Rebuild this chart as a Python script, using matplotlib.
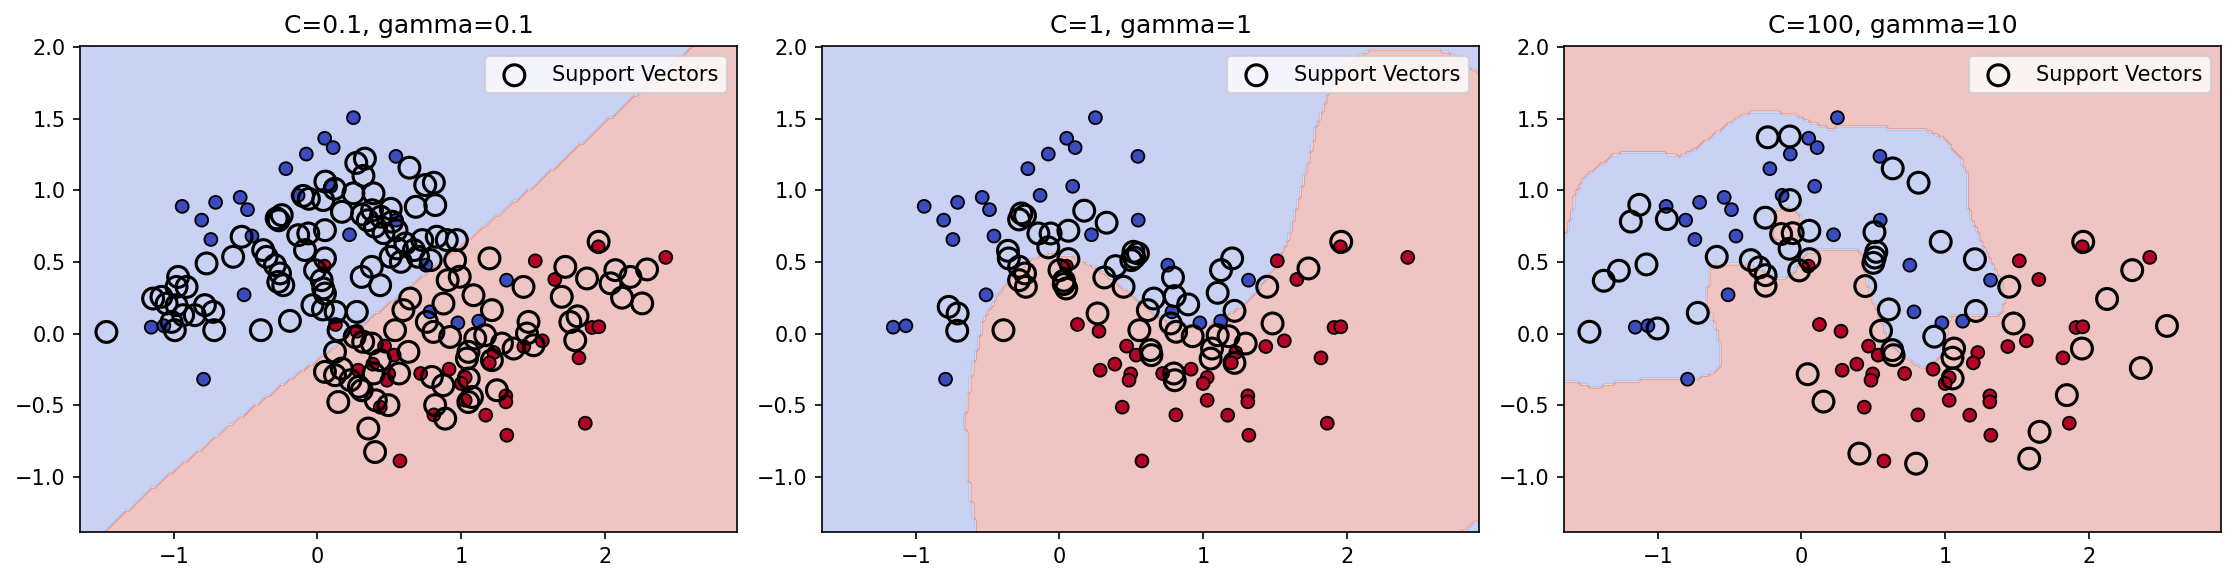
import numpy as np
import matplotlib
matplotlib.use("Agg")
import matplotlib.pyplot as plt
from matplotlib.path import Path

# ---------------- data ----------------
titles = ["C=0.1, gamma=0.1", "C=1, gamma=1", "C=100, gamma=10"]
x_limits = (-1.653, 2.92)
y_limits = (-1.385, 2.006)

# plotted (filled) points: class 0 (blue) and class 1 (red)
pts_blue = np.array([
    (0.25, 1.506), (0.05, 1.362), (0.109, 1.297), (-0.078, 1.252), (0.546, 1.236),
    (-0.22, 1.150), (0.092, 1.027), (-0.135, 0.964), (-0.538, 0.950), (-0.709, 0.915),
    (-0.942, 0.887), (-0.487, 0.864), (-0.806, 0.791), (0.548, 0.791), (0.223, 0.689),
    (-0.456, 0.680), (-0.742, 0.656), (0.754, 0.477), (1.316, 0.372), (-0.511, 0.270),
    (0.783, 0.151), (0.977, 0.074), (1.122, 0.086), (-1.157, 0.044), (-1.069, 0.054),
    (-0.793, -0.319)])
pts_red = np.array([
    (2.424, 0.531), (1.516, 0.507), (1.955, 0.605), (1.652, 0.377), (0.048, 0.47),
    (0.125, 0.063), (0.275, 0.016), (1.911, 0.042), (1.958, 0.047), (1.565, -0.051),
    (1.436, -0.091), (0.467, -0.088), (0.534, -0.151), (1.227, -0.133), (1.196, -0.205),
    (1.82, -0.170), (0.385, -0.214), (0.283, -0.256), (0.496, -0.282), (0.484, -0.326),
    (0.718, -0.279), (0.916, -0.249), (1.028, -0.307), (1.0, -0.349), (1.028, -0.466),
    (1.311, -0.435), (1.311, -0.477), (0.437, -0.514), (0.81, -0.568), (1.171, -0.570),
    (1.864, -0.626), (1.318, -0.710), (0.574, -0.889)])

# support vectors of each model
sv_1 = np.array([
    (0.27, 1.19), (0.33, 1.22), (0.64, 1.157), (0.32, 1.10), (0.055, 1.06), (0.12, 1.01),
    (-0.10, 0.96), (-0.06, 0.94), (0.04, 0.931), (0.25, 0.978), (0.39, 0.978), (0.75, 1.036),
    (0.81, 1.052), (0.82, 0.896), (0.684, 0.884), (0.17, 0.849), (-0.284, 0.803), (-0.249, 0.826),
    (-0.27, 0.79), (-0.134, 0.686), (-0.064, 0.698), (0.052, 0.721), (0.31, 0.83), (0.38, 0.86),
    (0.44, 0.815), (0.51, 0.87), (0.52, 0.78), (0.46, 0.70), (0.55, 0.72), (0.40, 0.745),
    (0.35, 0.79), (-0.528, 0.675), (-0.587, 0.535), (-0.772, 0.489), (-0.378, 0.582),
    (-0.354, 0.535), (-0.296, 0.477), (-0.261, 0.419), (-0.273, 0.360), (-0.238, 0.337),
    (-0.087, 0.582), (0.052, 0.524), (-0.017, 0.442), (0.029, 0.372), (0.04, 0.314),
    (0.052, 0.279), (0.308, 0.395), (0.378, 0.465), (0.436, 0.337), (0.509, 0.535),
    (0.553, 0.594), (0.612, 0.628), (0.671, 0.582), (0.729, 0.652), (0.83, 0.675), (0.9, 0.652),
    (0.97, 0.652), (0.70, 0.535), (0.788, 0.512), (0.58, 0.50),
    (-0.970, 0.395), (-0.911, 0.325), (-0.981, 0.325), (-1.144, 0.244), (-1.086, 0.256),
    (-1.05, 0.209), (-0.981, 0.198), (-0.935, 0.128), (-1.016, 0.081), (-0.993, 0.023),
    (-0.854, 0.128), (-0.784, 0.198), (-0.726, 0.151), (-0.719, 0.023),
    (-1.469, 0.011), (-0.394, 0.023), (-0.192, 0.088),
    (-0.035, 0.198), (0.038, 0.168), (0.126, 0.151), (0.274, 0.151), (0.147, 0.023),
    (0.259, -0.023), (0.318, -0.058), (0.122, -0.128), (0.052, -0.268), (0.122, -0.291),
    (0.169, -0.245), (0.229, -0.326), (0.288, -0.372), (0.145, -0.478), (0.354, -0.663),
    (0.401, -0.827), (0.391, -0.279), (0.435, -0.186), (0.406, -0.466), (0.494, -0.50),
    (0.568, -0.279), (0.378, -0.07), (0.308, -0.396),
    (0.633, -0.128), (0.54, 0.023), (0.598, 0.163), (0.645, 0.244), (0.761, 0.081),
    (0.807, 0.011), (0.877, 0.209), (0.923, -0.024), (0.99, 0.396), (0.906, 0.372),
    (1.086, 0.267), (1.214, 0.163), (1.197, 0.524), (0.958, 0.512),
    (1.469, 0.081), (1.458, 0.0), (1.504, -0.082), (1.284, -0.07), (1.365, -0.105),
    (1.098, -0.035), (1.167, -0.012), (1.051, -0.128), (1.04, -0.175), (1.214, -0.186),
    (1.249, -0.396), (1.075, -0.443), (1.05, -0.478), (1.053, -0.314),
    (0.796, -0.303), (0.876, -0.361), (0.819, -0.5), (0.889, -0.594),
    (1.76, 0.08), (1.81, 0.12), (1.794, -0.047), (1.70, 0.256), (1.725, 0.465), (1.434, 0.325),
    (1.876, 0.384), (2.073, 0.442), (2.294, 0.447), (2.178, 0.395), (2.04, 0.35), (2.12, 0.25),
    (2.26, 0.21), (1.957, 0.64)])

sv_2 = np.array([
    (-0.265, 0.838), (-0.240, 0.822), (-0.281, 0.796), (0.172, 0.857), (0.328, 0.773),
    (-0.147, 0.698), (-0.062, 0.698), (0.062, 0.717), (-0.078, 0.601), (0.062, 0.519),
    (0.0, 0.442), (-0.359, 0.577), (-0.353, 0.524), (-0.281, 0.466), (-0.240, 0.419),
    (-0.281, 0.372), (-0.234, 0.326), (0.031, 0.368), (0.047, 0.314), (0.03, 0.345),
    (0.312, 0.391), (0.39, 0.470), (0.446, 0.326), (0.515, 0.570), (0.5, 0.512), (0.546, 0.559),
    (0.52, 0.53), (-0.771, 0.186), (-0.709, 0.14), (-0.712, 0.019), (-0.390, 0.023),
    (0.265, 0.14), (0.656, 0.244), (0.615, 0.163), (0.790, 0.391), (0.802, 0.261),
    (0.896, 0.203), (0.774, 0.070), (0.812, 0.012), (0.556, 0.023), (0.634, -0.116),
    (0.640, -0.151), (0.927, -0.019), (0.796, -0.279), (0.802, -0.326), (1.124, 0.442),
    (1.202, 0.524), (1.101, 0.284), (1.218, 0.158), (1.101, -0.012), (1.177, -0.019),
    (1.062, -0.105), (1.052, -0.175), (1.296, -0.070), (1.218, -0.205), (1.446, 0.326),
    (1.483, 0.070), (1.733, 0.454), (1.961, 0.640)])

sv_3 = np.array([
    (-0.235, 1.369), (-0.081, 1.375), (0.635, 1.152), (0.815, 1.052), (-1.129, 0.898),
    (-1.188, 0.781), (-0.937, 0.798), (-0.081, 0.931), (-0.252, 0.808), (-0.142, 0.694),
    (-0.061, 0.70), (0.055, 0.717), (-0.083, 0.591), (0.055, 0.519), (-0.016, 0.44),
    (-0.59, 0.535), (-0.353, 0.512), (-0.294, 0.461), (-0.25, 0.407), (-0.25, 0.333),
    (-1.271, 0.438), (-1.376, 0.368), (-1.079, 0.482), (-1.476, 0.012), (-1.002, 0.035),
    (-0.722, 0.144), (0.508, 0.707), (0.521, 0.570), (0.51, 0.53), (0.5, 0.493), (0.444, 0.331),
    (0.608, 0.168), (0.554, 0.019), (0.632, -0.116), (0.641, -0.151), (0.969, 0.640),
    (1.207, 0.518), (1.214, 0.157), (0.924, -0.022), (1.062, -0.105), (1.051, -0.169),
    (1.052, -0.314), (1.446, 0.326), (1.476, 0.07), (1.961, 0.640), (2.302, 0.442),
    (2.127, 0.241), (2.544, 0.053), (1.952, -0.105), (2.362, -0.241), (1.847, -0.430),
    (1.657, -0.686), (1.585, -0.873), (0.043, -0.284), (0.153, -0.475), (0.403, -0.838),
    (0.798, -0.908)])

# decision regions (polygon outlines in data units)
region_blue_1 = [(-2.5, -2.5), (-1.62, -1.5), (-1.491, -1.385), (-1.086, -1.024), (-0.622, -0.652),
                 (-0.249, -0.361), (0.075, -0.128), (0.54, 0.244), (1.516, 1.036), (2.096, 1.559),
                 (2.612, 2.006), (2.75, 2.13), (-2.5, 2.13)]
region_red_2 = [(-0.58, -1.6), (-0.58, -1.385), (-0.64, -1.0), (-0.656, -0.6), (-0.649, -0.512),
                (-0.61, -0.28), (-0.579, -0.14), (-0.53, 0.1), (-0.462, 0.209), (-0.39, 0.33),
                (-0.322, 0.419), (-0.183, 0.524), (-0.066, 0.559), (0.097, 0.535), (0.237, 0.465),
                (0.377, 0.372), (0.517, 0.256), (0.657, 0.14), (0.796, 0.058), (0.983, 0.046),
                (1.146, 0.116), (1.264, 0.186), (1.38, 0.302), (1.496, 0.465), (1.59, 0.652),
                (1.66, 0.908), (1.732, 1.21), (1.79, 1.45), (1.842, 1.583), (1.889, 1.723),
                (1.98, 1.85), (2.107, 1.955), (2.2, 1.99), (2.5, 1.992), (2.65, 1.98), (2.78, 1.93),
                (2.93, 1.80), (3.1, 1.7), (3.1, -1.2), (2.93, -1.29), (2.8, -1.385), (2.78, -1.6)]
region_blue_3 = [(-1.8, 0.62), (-1.655, 0.65), (-1.62, 0.75), (-1.574, 0.954), (-1.51, 1.094),
                 (-1.44, 1.14), (-1.324, 1.233), (-1.207, 1.275), (-0.974, 1.261), (-0.857, 1.233),
                 (-0.764, 1.268), (-0.624, 1.373), (-0.507, 1.466), (-0.39, 1.531), (-0.25, 1.548),
                 (-0.04, 1.524), (0.076, 1.466), (0.192, 1.432), (0.332, 1.443), (0.542, 1.443),
                 (0.682, 1.42), (0.868, 1.42), (0.985, 1.362), (1.103, 1.234), (1.147, 1.117),
                 (1.16, 0.931), (1.172, 0.814), (1.219, 0.721), (1.265, 0.605), (1.312, 0.512),
                 (1.347, 0.442), (1.394, 0.36), (1.41, 0.233), (1.401, 0.151), (1.37, 0.116),
                 (1.219, 0.116), (1.032, 0.116), (1.0, -0.05), (0.962, -0.163), (0.892, -0.221),
                 (0.822, -0.233), (0.752, -0.186), (0.682, -0.14), (0.589, 0.0), (0.565, 0.07),
                 (0.495, 0.244), (0.461, 0.337), (0.437, 0.477), (0.425, 0.57), (0.355, 0.589),
                 (0.262, 0.594), (0.146, 0.582), (0.052, 0.57), (-0.017, 0.5), (-0.064, 0.407),
                 (-0.134, 0.384), (-0.2, 0.40), (-0.3, 0.45), (-0.437, 0.489), (-0.577, 0.493),
                 (-0.647, 0.454), (-0.659, 0.198), (-0.636, 0.163), (-0.601, 0.046), (-0.566, -0.07),
                 (-0.566, -0.233), (-0.624, -0.279), (-0.74, -0.314), (-0.927, -0.314),
                 (-1.137, -0.326), (-1.277, -0.338), (-1.417, -0.373), (-1.51, -0.361),
                 (-1.557, -0.338), (-1.655, -0.345), (-1.8, -0.345)]
region_red_island_3 = [(-0.204, 0.849), (-0.157, 0.873), (-0.087, 0.884), (-0.017, 0.838),
                       (0.006, 0.779), (-0.006, 0.686), (-0.04, 0.640), (-0.134, 0.628),
                       (-0.192, 0.663), (-0.209, 0.756)]

# ---------------- drawing ----------------
W, H, DPI = 2235, 582, 150
fig = plt.figure(figsize=(W / DPI, H / DPI), dpi=DPI)
lefts_px = [80, 822, 1564]
ax_w_px, ax_h_px, bottom_px = 657, 486, 50

h = 0.02
xx, yy = np.meshgrid(np.arange(x_limits[0] - 0.1, x_limits[1] + 0.1, h),
                     np.arange(y_limits[0] - 0.1, y_limits[1] + 0.1, h))
grid = np.c_[xx.ravel(), yy.ravel()]


def inside(poly):
    return Path(poly).contains_points(grid).reshape(xx.shape)


Z_list = [
    (~inside(region_blue_1)).astype(float),
    inside(region_red_2).astype(float),
    (~(inside(region_blue_3) & ~inside(region_red_island_3))).astype(float),
]
sv_list = [sv_1, sv_2, sv_3]

pts = np.vstack([pts_blue, pts_red])
labels = np.r_[np.zeros(len(pts_blue)), np.ones(len(pts_red))]

for i in range(3):
    ax = fig.add_axes([lefts_px[i] / W, bottom_px / H, ax_w_px / W, ax_h_px / H])
    ax.contourf(xx, yy, Z_list[i], cmap=plt.cm.coolwarm, alpha=0.3)
    ax.scatter(pts[:, 0], pts[:, 1], c=labels, cmap=plt.cm.coolwarm,
               edgecolors="k", s=38, linewidths=0.9)
    sv = sv_list[i]
    ax.scatter(sv[:, 0], sv[:, 1], s=100, facecolors="none", edgecolors="k",
               linewidths=1.5, label="Support Vectors")
    ax.set_xlim(*x_limits)
    ax.set_ylim(*y_limits)
    ax.set_title(titles[i])
    ax.legend(loc="upper right")

fig.savefig("out.png", dpi=DPI)
